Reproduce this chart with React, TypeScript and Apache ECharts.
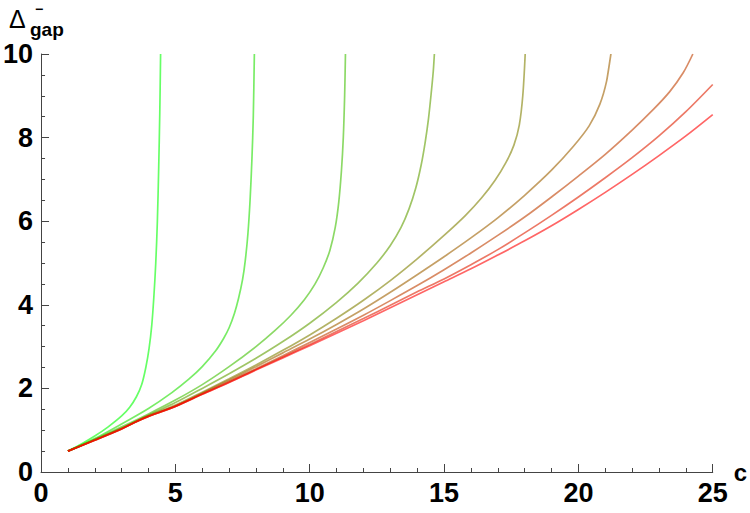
import React, { useEffect, useRef } from "react";
import * as echarts from "echarts";

// x-axis tick labels / y-axis tick labels
const xTicks = [0, 5, 10, 15, 20, 25];
const yTicks = [0, 2, 4, 6, 8, 10];

// Curves (c, gap), from green (1) to red (9)
const curve1: number[][] = [
  [1, 0.5], [1.5, 0.67], [2, 0.86], [2.5, 1.08], [3, 1.34], [3.3, 1.55], [3.55, 1.8],
  [3.75, 2.1], [3.9, 2.5], [4.02, 2.95], [4.12, 3.5], [4.2, 4.2], [4.27, 5.0],
  [4.33, 6.0], [4.38, 7.3], [4.42, 8.6], [4.45, 10],
];
const curve2: number[][] = [
  [1, 0.5], [2, 0.8], [3, 1.15], [4, 1.52], [4.87, 1.9], [5.5, 2.22], [6.0, 2.52],
  [6.5, 2.9], [6.8, 3.2], [7.0, 3.45], [7.2, 3.8], [7.35, 4.15], [7.5, 4.6],
  [7.6, 5.05], [7.7, 5.7], [7.78, 6.5], [7.85, 7.5], [7.9, 8.5], [7.94, 10],
];
const curve3: number[][] = [
  [1, 0.5], [2, 0.78], [3, 1.08], [4, 1.39], [5, 1.72], [6, 2.09], [7, 2.52], [8, 3.0],
  [8.7, 3.38], [9.3, 3.75], [9.8, 4.12], [10.2, 4.5], [10.5, 4.88], [10.75, 5.3],
  [10.95, 5.85], [11.08, 6.45], [11.18, 7.2], [11.25, 8.0], [11.3, 9.0], [11.33, 10],
];
const curve4: number[][] = [
  [1, 0.5], [2, 0.77], [3, 1.05], [4, 1.36], [5, 1.66], [6, 2.0], [7, 2.35], [8, 2.72],
  [9, 3.12], [10, 3.56], [11, 4.06], [11.8, 4.52], [12.5, 5.0], [13, 5.42], [13.4, 5.85],
  [13.7, 6.3], [13.95, 6.8], [14.15, 7.35], [14.3, 7.9], [14.42, 8.45], [14.52, 9.05],
  [14.6, 9.6], [14.64, 10],
];
const curve5: number[][] = [
  [1, 0.5], [2, 0.77], [3, 1.04], [3.5, 1.2], [4, 1.35], [5, 1.6], [6, 1.91], [7, 2.23],
  [8, 2.56], [9, 2.91], [10, 3.28], [11, 3.68], [12, 4.11], [13, 4.58], [14, 5.1],
  [15, 5.66], [15.8, 6.14], [16.4, 6.56], [16.9, 6.98], [17.3, 7.4], [17.6, 7.82],
  [17.8, 8.3], [17.93, 9.0], [18.02, 10],
];
const curve6: number[][] = [
  [1, 0.5], [2, 0.77], [3, 1.04], [3.5, 1.19], [4, 1.34], [5, 1.58], [6, 1.89], [7, 2.2],
  [8, 2.52], [9, 2.85], [10, 3.18], [11, 3.53], [12, 3.9], [13, 4.3], [14, 4.72],
  [15, 5.15], [16, 5.6], [17, 6.08], [18, 6.62], [19, 7.22], [19.8, 7.78], [20.4, 8.28],
  [20.8, 8.8], [21.05, 9.35], [21.21, 10],
];
const curve7: number[][] = [
  [1, 0.5], [2, 0.76], [3, 1.03], [3.5, 1.19], [4, 1.33], [5, 1.57], [6, 1.87], [7, 2.17],
  [8, 2.47], [9, 2.78], [10, 3.1], [11, 3.42], [12, 3.75], [13, 4.1], [14, 4.46],
  [15, 4.84], [16, 5.24], [17, 5.66], [18, 6.1], [19, 6.58], [20, 7.08], [21, 7.6],
  [22, 8.18], [22.8, 8.68], [23.4, 9.1], [23.9, 9.55], [24.26, 10],
];
const curve8: number[][] = [
  [1, 0.5], [2, 0.76], [3, 1.03], [3.5, 1.19], [4, 1.33], [5, 1.57], [6, 1.86], [7, 2.15],
  [8, 2.45], [9, 2.75], [10, 3.05], [11, 3.36], [12, 3.67], [13, 3.99], [14, 4.31],
  [15, 4.62], [16, 4.96], [17, 5.32], [18, 5.72], [19, 6.14], [20, 6.58], [21, 7.04],
  [22, 7.52], [23, 8.04], [24, 8.62], [25, 9.27],
];
const curve9: number[][] = [
  [1, 0.5], [2, 0.76], [3, 1.03], [3.5, 1.19], [4, 1.33], [4.5, 1.45], [5, 1.57],
  [6, 1.86], [7, 2.14], [8, 2.44], [9, 2.73], [10, 3.02], [11, 3.32], [12, 3.62],
  [13, 3.93], [14, 4.24], [15, 4.55], [16, 4.86], [17, 5.19], [18, 5.53], [19, 5.89],
  [20, 6.28], [21, 6.69], [22, 7.12], [23, 7.57], [24, 8.04], [25, 8.55],
];

const curves = [curve1, curve2, curve3, curve4, curve5, curve6, curve7, curve8, curve9];

const FONT = "'Liberation Sans', Arial, Helvetica, sans-serif";

function blendColor(t: number): string {
  const r = Math.round(255 * t);
  const g = Math.round(255 * (1 - t));
  return `rgb(${r},${g},0)`;
}

export default function App() {
  const ref = useRef<HTMLDivElement>(null);

  useEffect(() => {
    if (!ref.current) return;
    const chart = echarts.init(ref.current, undefined, { renderer: "svg" });
    const n = curves.length;
    const series = curves.map((data, i) => ({
      type: "line",
      data,
      showSymbol: false,
      smooth: 0.3,
      clip: true,
      lineStyle: { color: blendColor(i / (n - 1)), width: 1.7, opacity: 0.6 },
      z: 2 + i,
    }));

    chart.setOption({
      animation: false,
      backgroundColor: "#ffffff",
      grid: { left: 38, right: 34, top: 54, bottom: 41, containLabel: false },
      xAxis: {
        type: "value",
        min: xTicks[0],
        max: xTicks[xTicks.length - 1],
        interval: 5,
        name: "c",
        nameLocation: "end",
        nameGap: 18,
        nameTextStyle: { fontFamily: FONT, fontWeight: "bold", fontSize: 24, color: "#000" },
        axisLine: { show: true, onZero: false, lineStyle: { color: "#444", width: 1 } },
        axisTick: { show: true, inside: true, length: 8, lineStyle: { color: "#444" } },
        minorTick: { show: true, splitNumber: 5, length: 4, lineStyle: { color: "#444" } },
        splitLine: { show: false },
        axisLabel: { fontFamily: FONT, fontWeight: "bold", fontSize: 27, color: "#000", margin: 7 },
      },
      yAxis: {
        type: "value",
        min: yTicks[0],
        max: yTicks[yTicks.length - 1],
        interval: 2,
        axisLine: { show: true, onZero: false, lineStyle: { color: "#444", width: 1 } },
        axisTick: { show: true, inside: true, length: 8, lineStyle: { color: "#444" } },
        minorTick: { show: true, splitNumber: 4, length: 4, lineStyle: { color: "#444" } },
        splitLine: { show: false },
        axisLabel: { fontFamily: FONT, fontWeight: "bold", fontSize: 27, color: "#000", margin: 8 },
      },
      graphic: [
        { type: "text", left: 9, top: 6, style: { text: "Δ", fontFamily: FONT, fontSize: 25, fill: "#000" } },
        { type: "text", left: 35, top: 2, style: { text: "−", fontFamily: FONT, fontSize: 14, fontWeight: "bold", fill: "#000" } },
        { type: "text", left: 30, top: 20, style: { text: "gap", fontFamily: FONT, fontSize: 19, fontWeight: "bold", fill: "#000" } },
      ],
      series,
    });
    return () => chart.dispose();
  }, []);

  return <div ref={ref} style={{ width: 750, height: 513, position: "absolute", left: 0, top: 0 }} />;
}
